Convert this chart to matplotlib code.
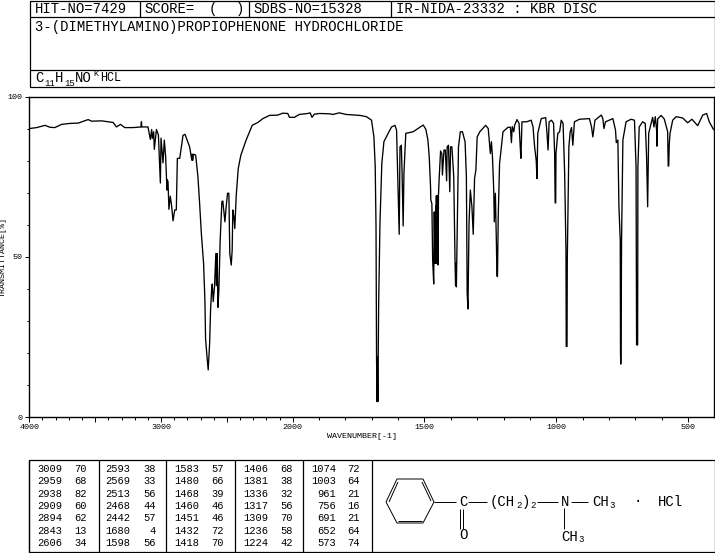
import numpy as np
import matplotlib
matplotlib.use("Agg")
import matplotlib.pyplot as plt

FONT = "Liberation Mono"
W, H = 715, 553

# spectrum
wavenumber = [
    4000, 3944, 3881, 3843, 3806, 3755, 3692, 3629, 3553, 3528, 3452, 3364, 3338, 3308, 3275, 3212,
    3152, 3149, 3146, 3099, 3081, 3071, 3066, 3056, 3051, 3035, 3020, 3010, 3005, 3000, 2985, 2975,
    2965, 2955, 2952, 2947, 2940, 2930, 2920, 2909, 2896, 2884, 2876, 2858, 2833, 2818, 2783, 2766,
    2763, 2760, 2754, 2737, 2720, 2707, 2694, 2677, 2667, 2662, 2652, 2642, 2631, 2624, 2616, 2611,
    2604, 2594, 2584, 2579, 2574, 2568, 2561, 2551, 2538, 2531, 2515, 2505, 2495, 2485, 2478, 2467,
    2460, 2455, 2447, 2440, 2429, 2414, 2394, 2354, 2308, 2265, 2227, 2177, 2114, 2076, 2038, 2025,
    1994, 1975, 1943, 1934, 1927, 1918, 1899, 1861, 1848, 1823, 1798, 1745, 1720, 1701, 1692, 1687,
    1684, 1682, 1680, 1679, 1677, 1674, 1669, 1662, 1654, 1638, 1625, 1612, 1606, 1601, 1598, 1596,
    1593, 1588, 1585, 1581, 1578, 1571, 1543, 1518, 1505, 1495, 1487, 1482, 1477, 1476, 1472, 1469,
    1465, 1463, 1460, 1459, 1458, 1457, 1456, 1455, 1454, 1453, 1452, 1451, 1450, 1449, 1448, 1447,
    1444, 1439, 1434, 1432, 1426, 1421, 1416, 1414,
    1409, 1404, 1401, 1396, 1389, 1384, 1382, 1380, 1379, 1376, 1371, 1364, 1356, 1346, 1341, 1338, 1335, 1331,
    1326, 1320, 1315, 1310, 1305, 1300, 1290, 1268, 1258, 1250, 1246, 1242, 1237, 1235, 1231, 1227,
    1225, 1223, 1220, 1215, 1202, 1183, 1174, 1170, 1167, 1161, 1158, 1149, 1141, 1136, 1134, 1130, 1113,
    1095, 1088, 1082, 1076, 1073, 1070, 1057, 1040, 1035, 1031, 1027, 1018, 1010, 1006, 1004, 1002, 1001,
    994, 987, 981, 974, 968, 963, 962, 959, 958, 952, 947, 942, 937, 931, 912, 874, 866, 861, 853, 829,
    823, 819, 813, 785, 775, 772, 766, 762, 757, 756, 755, 754, 752, 747, 735, 716, 703, 697, 695, 691, 690, 685,
    672, 662, 657, 653, 649, 640, 634, 629, 624, 619, 618, 615, 602, 590, 577, 575, 573, 571, 568, 558, 545,
    520, 501, 485, 463, 444, 429, 419, 403,
]
transmittance = [
    90.0, 90.3, 91.0, 90.4, 90.3, 91.3, 91.6, 91.7, 92.8, 92.3, 92.4, 91.9, 90.5, 91.3, 90.3, 90.3,
    90.5, 92.1, 90.5, 90.5, 86.6, 89.7, 86.9, 89.0, 83.5, 89.7, 88.0, 77.5, 73.0, 87.0, 79.3, 86.4,
    81.2, 70.8, 74.0, 73.4, 64.8, 68.9, 66.0, 61.2, 64.6, 64.6, 80.7, 80.7, 87.9, 88.2, 84.3, 80.1,
    82.0, 80.1, 82.0, 81.7, 75.0, 66.6, 57.3, 47.9, 36.5, 24.5, 19.3, 14.7, 23.0, 33.4, 39.8, 41.5,
    36.0, 40.6, 51.0, 41.0, 51.0, 34.2, 39.6, 55.2, 67.2, 67.4, 60.9, 65.8, 69.8, 69.8, 51.0, 47.4,
    52.0, 64.6, 62.5, 58.8, 69.2, 77.5, 81.7, 86.4, 91.0, 91.9, 93.1, 94.1, 94.2, 94.8, 94.7, 93.5,
    93.5, 94.4, 94.7, 94.9, 93.5, 94.5, 94.7, 94.6, 94.4, 94.9, 94.4, 94.1, 93.7, 92.6, 87.4, 78.1,
    59.4, 18.8, 4.8, 18.8, 4.8, 35.4, 60.4, 79.1, 85.9, 88.5, 90.5, 91.0, 89.5, 73.9, 64.5, 57.0,
    84.3, 84.8, 76.0, 59.6, 76.0, 88.5, 89.0, 90.4, 91.1, 89.8, 86.4, 81.2, 71.8, 67.7, 66.6, 49.0,
    41.5, 64.0, 47.9, 62.0, 48.0, 66.0, 50.0, 69.0, 48.0, 69.0, 50.0, 69.0, 47.5, 69.0, 47.5, 69.2,
    75.0, 83.0, 82.1, 75.5, 83.3, 83.3, 73.7, 84.3,
    84.8, 70.3, 84.3, 84.3, 75.0, 48.4, 41.0, 48.0, 40.6, 57.3, 84.3, 89.0, 89.0, 85.9, 75.0, 38.6, 33.7, 60.4,
    70.8, 65.6, 57.0, 74.4, 77.0, 87.4, 89.0, 91.0, 90.0, 82.2, 85.9, 81.2, 70.3, 60.9, 69.8, 54.0,
    44.0, 43.8, 63.0, 79.1, 89.0, 90.4, 90.4, 85.6, 90.6, 89.0, 91.0, 92.8, 91.6, 83.3, 80.7, 92.1, 92.1,
    92.6, 90.5, 84.3, 80.1, 74.4, 88.5, 93.1, 93.4, 88.5, 83.3, 92.1, 92.6, 91.6, 82.2, 66.8, 66.8, 82.2,
    88.5, 89.0, 92.6, 91.6, 76.0, 52.0, 22.0, 22.0, 49.0, 84.3, 89.0, 90.3, 84.8, 92.1, 92.9, 93.1, 90.5, 87.4, 92.6, 94.2,
    93.1, 90.0, 92.1, 93.1, 89.5, 85.6, 86.4, 65.6, 55.2, 20.0, 16.5, 20.0, 55.2, 86.4, 92.1, 92.9, 92.6, 78.0, 22.5, 22.5, 78.0, 90.5,
    92.1, 91.6, 81.2, 65.6, 88.5, 91.6, 93.5, 90.5, 93.7, 89.5, 84.5, 93.0, 94.1, 93.0, 89.0, 78.3, 78.3, 85.0, 88.5, 92.6, 93.7,
    93.3, 91.8, 92.9, 90.9, 94.2, 94.7, 92.1, 89.7,
]

x_major = [4000, 3500, 3000, 2500, 2000, 1500, 1000, 500]
x_labels = ["4000", "", "3000", "", "2000", "1500", "1000", "500"]
x_minor = [w for w in range(3900, 400, -100) if w not in x_major]
y_labels = ["100", "50", "0"]
y_major = [100, 50, 0]
y_minor = [10, 20, 30, 40, 60, 70, 80, 90]

table_wave = [
    ["3009", "2959", "2938", "2909", "2894", "2843", "2606"],
    ["2593", "2569", "2513", "2468", "2442", "1680", "1598"],
    ["1583", "1480", "1468", "1460", "1451", "1432", "1418"],
    ["1406", "1381", "1336", "1317", "1309", "1236", "1224"],
    ["1074", "1003", "961", "756", "691", "652", "573"],
]
table_t = [
    ["70", "68", "82", "60", "62", "13", "34"],
    ["38", "33", "56", "44", "57", "4", "56"],
    ["57", "66", "39", "46", "46", "72", "70"],
    ["68", "38", "32", "56", "70", "58", "42"],
    ["72", "64", "21", "16", "21", "64", "74"],
]
table_col_x = [62, 130, 199, 268, 336]
table_t_x = [87, 156, 224, 293, 360]
table_seps = [29, 99, 166, 235, 303, 372]


def fwd(x):
    # below 2000 the wavenumber axis is stretched by two
    x = np.asarray(x, dtype=float)
    return np.where(x <= 2000, x * 2, x + 2000)


def inv(y):
    y = np.asarray(y, dtype=float)
    return np.where(y <= 4000, y / 2, y - 2000)


fig = plt.figure(figsize=(W / 100, H / 100), dpi=100)

# page layer in pixel coordinates for the boxes, text and formula
pg = fig.add_axes([0, 0, 1, 1])
pg.set_xlim(0, W)
pg.set_ylim(H, 0)
pg.axis("off")


def line(xs, ys, lw=0.9):
    pg.plot(xs, ys, color="black", lw=lw, solid_capstyle="butt")


def txt(x, y, s, size=10, ha="left", **kw):
    pg.text(x, y, s, fontsize=size, family=FONT, ha=ha, va="center", color="black", **kw)


# header
line([29.5, 714.5, 714.5, 29.5, 29.5], [0.5, 0.5, 87, 87, 0.5])
line([29.5, 714.5], [17, 17])
line([29.5, 714.5], [69.5, 69.5])
for sx in [140, 248.5, 390.5]:
    line([sx, sx], [0.5, 17])
txt(35, 9, "HIT-NO=7429")
txt(144, 9, "SCORE=")
txt(209, 9, "(")
txt(236, 9, ")")
txt(253, 9, "SDBS-NO=15328")
txt(396, 9, "IR-NIDA-23332 : KBR DISC")
txt(35, 27, "3-(DIMETHYLAMINO)PROPIOPHENONE HYDROCHLORIDE")
txt(35, 78, "C")
txt(44.5, 83, "11", size=6.5)
txt(55, 78, "H")
txt(64.5, 83, "15", size=6.5)
txt(75, 78, "NO")
txt(93, 75, "K", size=6)
txt(100, 78, "HCL", size=8.5)

# spectrum
left, right, top, bottom = 29.3, 714.3, 96.5, 417
ax = fig.add_axes([left / W, 1 - bottom / H, (right - left) / W, (bottom - top) / H])
ax.patch.set_alpha(0)
ax.set_xscale("function", functions=(fwd, inv))
ax.set_xlim(4000, 400)
ax.set_ylim(0, 100)
ax.plot(wavenumber, transmittance, color="black", lw=0.95)
ax.set_xticks(x_major)
ax.set_xticks(x_minor, minor=True)
ax.set_xticklabels(x_labels, fontsize=6, family=FONT)
ax.set_yticks(y_major)
ax.set_yticks(y_minor, minor=True)
ax.set_yticklabels(y_labels, fontsize=6, family=FONT)
ax.tick_params(axis="x", which="major", length=3.6, width=0.7, pad=1.5)
ax.tick_params(axis="x", which="minor", length=2.2, width=0.7)
ax.tick_params(axis="y", which="major", length=3, width=0.7, pad=2)
ax.tick_params(axis="y", which="minor", length=1.5, width=0.7)
for s in ax.spines.values():
    s.set_linewidth(1.0)
txt(327, 437, "WAVENUMBER[-1]", size=6)
txt(3, 257, "TRANSMITTANCE[%]", size=6, ha="center", rotation=90)

# peak table
line([29, 714.5, 714.5, 29, 29], [460, 460, 552, 552, 460])
for sx in table_seps:
    line([sx, sx], [460, 552])
for c in range(len(table_wave)):
    for r in range(len(table_wave[c])):
        y = 469 + r * 12.3
        txt(table_col_x[c], y, table_wave[c][r], size=7.5, ha="right")
        txt(table_t_x[c], y, table_t[c][r], size=7.5, ha="right")

# structure
ring_x = [386, 397, 423, 434, 423, 397, 386]
ring_y = [502, 479, 479, 502, 523, 523, 502]
line(ring_x, ring_y, lw=0.7)
line([389, 398], [502, 482], lw=0.7)
line([422, 431], [482, 501], lw=0.7)
line([398, 422], [521, 521], lw=0.7)
line([434, 456], [502, 502], lw=0.7)
line([460, 460], [509, 529], lw=0.7)
line([462.5, 462.5], [509, 529], lw=0.7)
line([468, 487], [502, 502], lw=0.7)
line([537, 558], [502, 502], lw=0.7)
line([571, 588], [502, 502], lw=0.7)
line([564, 564], [508, 529], lw=0.7)
txt(463, 502, "C", size=10, ha="center")
txt(463, 535, "O", size=10, ha="center")
txt(490, 502, "(CH", size=10)
txt(516, 505, "2", size=6.5)
txt(522, 502, ")", size=10)
txt(530, 505, "2", size=6.5)
txt(565, 502, "N", size=10, ha="center")
txt(592, 502, "CH", size=10)
txt(609, 505, "3", size=6.5)
txt(561, 537, "CH", size=10)
txt(578, 540, "3", size=6.5)
txt(638, 501, "\u00b7", size=10, ha="center")
txt(658, 502, "HCl", size=10)

fig.savefig("out.png", dpi=100)
